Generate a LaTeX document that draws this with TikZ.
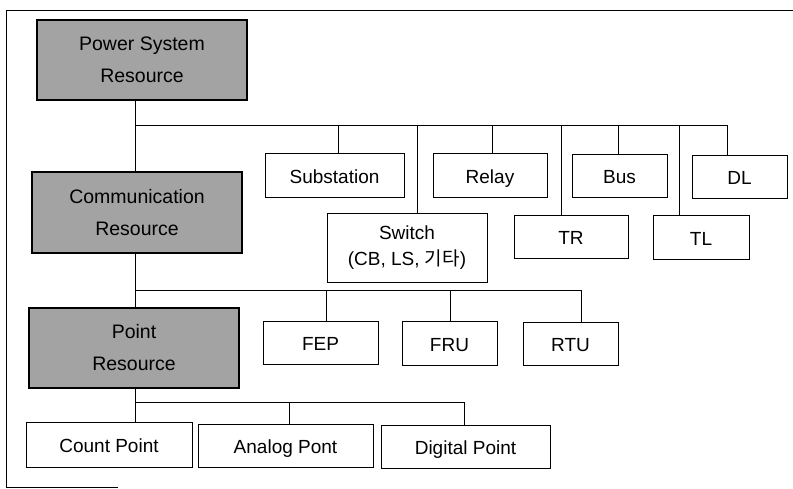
\documentclass[tikz,border=0pt]{standalone}
\usepackage{fontspec}
\setmainfont{Liberation Sans}
\newfontfamily\krfont{Noto Sans CJK KR}
\begin{document}
\begin{tikzpicture}[x=1pt,y=-1pt,
  every node/.style={font=\fontsize{19}{24}\selectfont},
  box/.style={draw=black, line width=0.9pt, fill=white, rectangle, inner sep=0pt, align=center},
  leaf/.style={box, text height=16.5pt, text depth=0pt},
  res/.style={box, fill=black!36, line width=1.1pt, font=\fontsize{19.5}{32}\selectfont},
  link/.style={draw=black, line width=0.8pt}]
\useasboundingbox (0,0) rectangle (793,488);
\draw[line width=1pt] (793,10) -- (6,10) -- (6,487) -- (118,487);

% resource boxes
\node[res, minimum width=210pt, minimum height=80pt] (psr) at (142,60) {Power System\\Resource};
\node[res, minimum width=210pt, minimum height=81pt] (comm) at (137,212.5) {Communication\\Resource};
\node[res, minimum width=210pt, minimum height=80pt] (pr) at (134,348) {Point\\Resource};

% power system children
\node[leaf, minimum width=139pt, minimum height=44pt] (sub) at (334.5,175) {Substation};
\node[leaf, minimum width=114pt, minimum height=44pt] (relay) at (490,175) {Relay};
\node[leaf, minimum width=95pt, minimum height=43pt] (bus) at (619.5,175.5) {Bus};
\node[leaf, minimum width=95pt, minimum height=43pt] (dl) at (739.5,176.5) {DL};
\node[box, minimum width=160pt, minimum height=69pt, font=\fontsize{19}{26}\selectfont] (sw) at (407,247.5) {Switch\\(CB, LS, {\krfont 기타})};
\node[leaf, minimum width=114pt, minimum height=43pt] (tr) at (571,236.5) {TR};
\node[leaf, minimum width=96pt, minimum height=44pt] (tl) at (701,237) {TL};

% communication children
\node[leaf, minimum width=115pt, minimum height=43pt] (fep) at (320.5,342.5) {FEP};
\node[leaf, minimum width=95pt, minimum height=44pt] (fru) at (449.5,343) {FRU};
\node[leaf, minimum width=95pt, minimum height=43pt] (rtu) at (570.5,343.5) {RTU};

% point children
\node[leaf, minimum width=166pt, minimum height=45pt] (cnt) at (109,444.5) {Count Point};
\node[leaf, minimum width=175pt, minimum height=43pt] (ana) at (285.5,445.5) {Analog Pont};
\node[leaf, minimum width=169pt, minimum height=43pt] (dig) at (465.5,446.5) {Digital Point};

% trunk
\coordinate (b1) at (135,125);
\coordinate (b1e) at (728,125);
\coordinate (b2) at (135,290);
\coordinate (b2e) at (581,290);
\coordinate (b3) at (135,402);
\coordinate (b3e) at (464,402);

\draw[link] (b1 |- psr.south) -- (b1 |- comm.north);
\draw[link] (b1 |- comm.south) -- (b1 |- pr.north);
\draw[link] (b1 |- pr.south) -- (b1 |- cnt.north);

\draw[link] (b1) -- (b1e);
\draw[link] (b2) -- (b2e);
\draw[link] (b3) -- (b3e);

% drops level 1
\coordinate (dsub) at (338,125);
\coordinate (dsw) at (417,125);
\coordinate (drel) at (492,125);
\coordinate (dtr) at (561,125);
\coordinate (dbus) at (618,125);
\coordinate (dtl) at (679,125);
\coordinate (ddl) at (727,125);
\draw[link] (dsub) -- (dsub |- sub.north);
\draw[link] (dsw) -- (dsw |- sw.north);
\draw[link] (drel) -- (drel |- relay.north);
\draw[link] (dtr) -- (dtr |- tr.north);
\draw[link] (dbus) -- (dbus |- bus.north);
\draw[link] (dtl) -- (dtl |- tl.north);
\draw[link] (ddl) -- (ddl |- dl.north);

% drops level 2
\coordinate (dfep) at (326,290);
\coordinate (dfru) at (450,290);
\draw[link] (dfep) -- (dfep |- fep.north);
\draw[link] (dfru) -- (dfru |- fru.north);
\draw[link] (b2e) -- (b2e |- rtu.north);

% drops level 3
\coordinate (dana) at (289,402);
\draw[link] (dana) -- (dana |- ana.north);
\draw[link] (b3e) -- (b3e |- dig.north);
\end{tikzpicture}
\end{document}
